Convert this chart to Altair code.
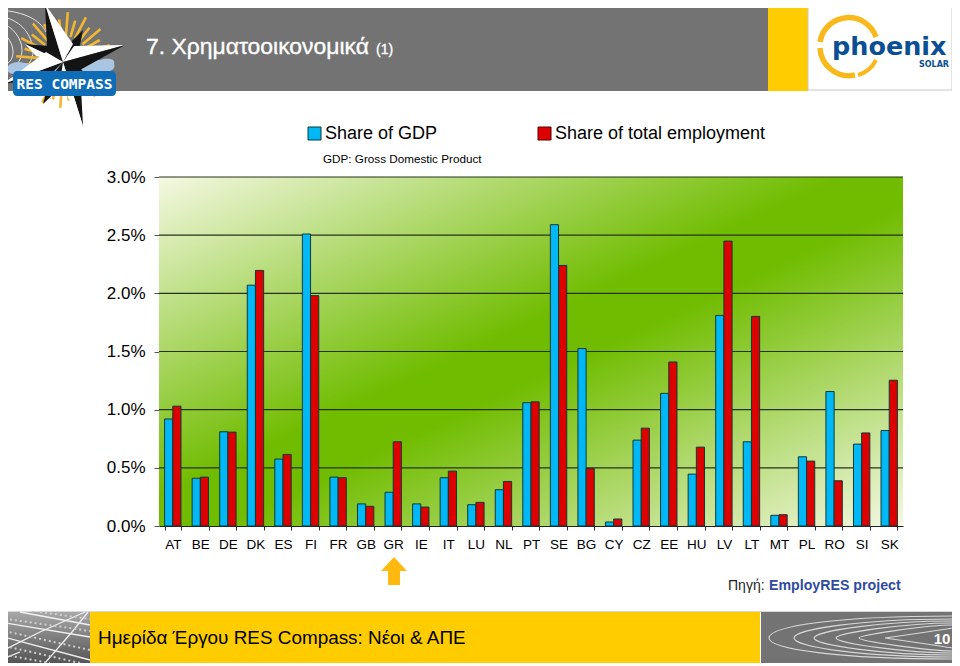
import math
import altair as alt
import pandas as pd

countries = ["AT","BE","DE","DK","ES","FI","FR","GB","GR","IE","IT","LU","NL","PT","SE","BG","CY","CZ","EE","HU","LV","LT","MT","PL","RO","SI","SK"]
gdp = [0.92,0.41,0.81,2.07,0.575,2.51,0.42,0.19,0.29,0.19,0.415,0.183,0.312,1.06,2.59,1.525,0.034,0.738,1.14,0.446,1.81,0.724,0.092,0.595,1.156,0.704,0.821]
employment = [1.03,0.42,0.807,2.197,0.615,1.98,0.415,0.169,0.724,0.163,0.472,0.203,0.383,1.067,2.24,0.495,0.06,0.841,1.41,0.678,2.449,1.802,0.097,0.558,0.389,0.80,1.253]
y_ticks = [0.5,1.0,1.5,2.0,2.5,3.0]
series = ["Share of GDP","Share of total employment"]
colors = ["#00B8F5","#DC0000"]

df = pd.DataFrame({
    "country": countries*2,
    "series": [series[0]]*len(countries)+[series[1]]*len(countries),
    "value": gdp+employment,
})

FONT = "Liberation Sans"
PX, PY = 159, 177
ONE = alt.Data(values=[{"_":0}])

def rect(x0,y0,x1,y1,fill,**kw):
    return alt.Chart(ONE).mark_rect(color=fill,**kw).encode(
        x=alt.value(x0-PX),x2=alt.value(x1-PX),y=alt.value(y0-PY),y2=alt.value(y1-PY))

def text(s,x,y,size,color="#000000",align="left",weight="normal",font=FONT,**kw):
    return alt.Chart(ONE).mark_text(align=align,baseline="alphabetic",font=font,fontSize=size,
        color=color,fontWeight=weight,**kw).encode(x=alt.value(x-PX),y=alt.value(y-PY),text=alt.value(s))

def path(d,fill=None,stroke=None,sw=1.0,**kw):
    args = dict(shape=d,size=4,opacity=1)
    if fill:
        args.update(filled=True,fill=fill)
    else:
        args.update(filled=False,fill="transparent")
    if stroke:
        args.update(stroke=stroke,strokeWidth=sw)
    else:
        args.update(strokeWidth=0)
    args.update(kw)
    return alt.Chart(ONE).mark_point(**args).encode(x=alt.value(0-PX),y=alt.value(0-PY))

layers = []
# ---- header
layers += [rect(0,2,768,91,"#737373"), rect(768,2,808,91,"#FFCC00"),
           rect(808,2,952,90,"#FFFFFF",stroke="#C8C8C8",strokeWidth=1)]
# header rings
for d in ["M0 10 C25 12 40 20 46 32","M0 16 C20 20 30 32 33 48 C34 56 30 66 20 72",
          "M0 22 C12 26 22 38 22 50 C22 62 14 68 6 72","M0 30 C8 36 13 44 13 52 C13 60 8 64 3 66"]:
    layers.append(path(d,stroke="#E4E4E4",sw=1))
# sun rays
cx, cy = 64, 60
rays = ""
for i in range(32):
    a = 2*math.pi*i/32 + 0.08
    r1 = 24
    r2 = 48 if i%2==0 else 41
    rays += f"M{cx+r1*math.cos(a):.1f} {cy+r1*math.sin(a):.1f}L{cx+r2*math.cos(a):.1f} {cy+r2*math.sin(a):.1f}"
layers.append(path(rays,stroke="#F2B72E",sw=2.6))
# cloud
layers.append(path("M8 66 C14 60 22 62 30 64 L100 60 C106 58 116 58 114 64 C116 68 112 72 104 72 L14 74 C8 74 6 70 8 66Z",fill="#A9C5E2"))
# compass star
small = [("M83 30 L69 44 L63 62 L79 50Z","#141414"),("M25 44 L48 46 L63 62 L46 54Z","#141414"),
         ("M25 44 L46 54 L63 62 L36 56Z","#FFFFFF"),("M43 104 L50 78 L63 62 L66 82Z","#141414"),
         ("M102 92 L80 68 L63 62 L76 80Z","#141414")]
for d,c in small:
    layers.append(path(d,fill=c))
halves = [("M45 4 L47 46 L63 62Z","#141414"),("M45 4 L73 44 L63 62Z","#FFFFFF"),
          ("M125 45 L74 46 L63 62Z","#FFFFFF"),("M125 45 L80 70 L63 62Z","#141414"),
          ("M83 126 L80 70 L63 62Z","#141414"),("M83 126 L60 82 L63 62Z","#FFFFFF"),
          ("M3 84 L47 78 L63 62Z","#141414"),("M3 84 L46 52 L63 62Z","#FFFFFF")]
for d,c in halves:
    layers.append(path(d,fill=c))
# RES COMPASS badge
layers.append(rect(13,71,116,96,"#0F6DB8",cornerRadius=4))
layers.append(text("RES COMPASS",64.5,89,14.5,"#FFFFFF","center","bold","DejaVu Sans Mono"))
# title
layers.append(text("7. Χρηματοοικονομικά",146,54,22.9,"#FFFFFF",stroke="#FFFFFF",strokeWidth=0.35))
layers.append(text("(1)",376,54,14,"#FFFFFF",stroke="#FFFFFF",strokeWidth=0.35))
# phoenix logo
layers.append(path("M876 37 A29 29 0 0 0 820 42",stroke="#F9B91C",sw=5.5))
layers.append(path("M820 48 A29 29 0 0 0 855 75",stroke="#F9B91C",sw=5.5))
layers.append(path("M858 75 A29 29 0 0 0 876 60",stroke="#F9B91C",sw=4))
layers.append(text("phoenix",832,54.5,25.5,"#0A4F93","left","bold","DejaVu Sans"))
layers.append(text("SOLAR",949,67,8,"#0A4F93","right","bold","DejaVu Sans"))

# ---- legend
layers.append(rect(308,127,321,140,colors[0],stroke="#0D3B3B",strokeWidth=1))
layers.append(text(series[0],325,139,18))
layers.append(rect(538,127,551,140,colors[1],stroke="#5A0000",strokeWidth=1))
layers.append(text(series[1],555,139,18))
layers.append(text("GDP: Gross Domestic Product",323,163,11.7))

# ---- plot background
grad = alt.LinearGradient(gradient="linear",x1=0,y1=0,x2=1,y2=1,stops=[
    alt.GradientStop(color="#F4F8E2",offset=0),
    alt.GradientStop(color="#70BC00",offset=0.46),
    alt.GradientStop(color="#70BC00",offset=0.54),
    alt.GradientStop(color="#F4F8E2",offset=1)])
layers.append(alt.Chart(ONE).mark_rect(color=grad).encode(
    x=alt.value(0),x2=alt.value(744),y=alt.value(0),y2=alt.value(349)))

yscale = alt.Scale(domain=[0,3],nice=False,zero=True)
yaxis = alt.Axis(values=[0]+y_ticks,labelExpr="format(datum.value,'.1f')+'%'",labelFont=FONT,labelFontSize=17,
    labelColor="#000000",tickColor="#555555",tickSize=5,domainColor="#777777",labelPadding=9,grid=False,title=None)
layers.append(alt.Chart(pd.DataFrame({"t":y_ticks})).mark_rule(color="#26331A",strokeWidth=1.2).encode(
    y=alt.Y("t:Q",scale=yscale,axis=yaxis)))

# ---- bars
bars = alt.Chart(df).mark_bar(stroke="#0E3A3A",strokeWidth=1).encode(
    x=alt.X("country:N",sort=countries,title=None,
        scale=alt.Scale(paddingInner=0.405,paddingOuter=0.2025),
        axis=alt.Axis(tickBand="extent",labelAngle=0,labelFont=FONT,labelFontSize=13.5,labelColor="#000000",
            tickColor="#333333",tickSize=4,domainColor="#222222",labelPadding=7,grid=False)),
    xOffset=alt.XOffset("series:N",sort=series,scale=alt.Scale(paddingInner=0,paddingOuter=0)),
    y=alt.Y("value:Q",scale=yscale,axis=yaxis),
    color=alt.Color("series:N",sort=series,scale=alt.Scale(domain=series,range=colors),legend=None),
)
layers.append(bars)

# ---- arrow & source
layers.append(path("M394 557 L407 571 L400 571 L400 585 L388 585 L388 571 L381 571Z",fill="#FFB90F"))
layers.append(text("Πηγή:",728,590,14,"#222222"))
layers.append(text("EmployRES project",769,590,14.2,"#2F4BA0","left","bold"))

# ---- footer
layers.append(rect(0,611,952,612,"#D8D8D8"))
# solar panel picture
layers.append(alt.Chart(ONE).mark_rect(color=alt.LinearGradient(gradient="linear",x1=0,y1=0,x2=0,y2=1,stops=[
    alt.GradientStop(color="#A8A8A8",offset=0),alt.GradientStop(color="#555555",offset=1)])).encode(
    x=alt.value(0-PX),x2=alt.value(90-PX),y=alt.value(612-PY),y2=alt.value(663-PY)))
for d in ["M0 636 L90 660","M0 622 L90 637","M20 612 L90 625","M0 652 L40 632 L85 612","M45 663 L72 632 L88 612","M0 660 L20 652"]:
    layers.append(path(d,stroke="#F0F0F0",sw=1.3))
for d in ["M0 645 L80 663","M0 654 L50 663","M0 630 L90 650","M0 618 L90 631","M40 612 L90 619"]:
    layers.append(path(d,stroke="#CFCFCF",sw=2,strokeDash=[2,3]))
layers.append(rect(90,612,760,663,"#FFCC00"))
layers.append(text("Ημερίδα Έργου RES Compass: Νέοι & ΑΠΕ",98,644,18.9))
layers.append(rect(761,612,952,663,"#737373"))
tips = [769,794,814,836,859,885]
tops = [616,619,621,623,625,628]
bots = [659,657,655,653,651,648]
for t,a,b in zip(tips,tops,bots):
    layers.append(path(f"M952 {a} C{t+70} {a} {t} {a+10} {t} 638 C{t} {b-10} {t+70} {b} 952 {b}",stroke="#D8D8D8",sw=1.1))
layers.append(text("10",942,644,15,"#FFFFFF","center","bold"))

chart = alt.layer(*layers).resolve_scale(y="shared").properties(
    width=744,height=349,
    padding={"left":151,"top":169,"right":49,"bottom":137},
    autosize=alt.AutoSizeParams(type="none"),
    background="#FFFFFF",
).configure_view(stroke=None)

chart.save("out.html",embed_options={"renderer":"svg","actions":False})
